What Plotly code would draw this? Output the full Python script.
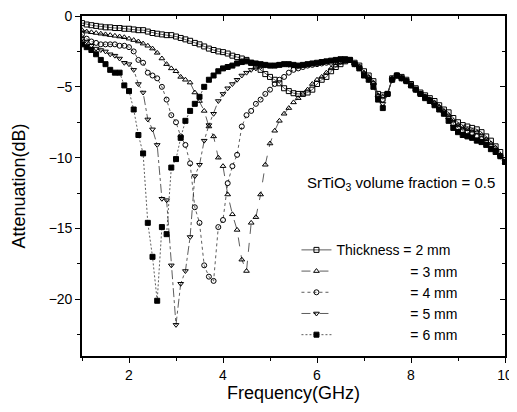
import plotly.graph_objects as go

# Frequency grid (GHz)
FREQ = [1.0, 1.1, 1.2, 1.3, 1.4, 1.5, 1.6, 1.7, 1.8, 1.9,
        2.0, 2.1, 2.2, 2.3, 2.4, 2.5, 2.6, 2.7, 2.8, 2.9,
        3.0, 3.1, 3.2, 3.3, 3.4, 3.5, 3.6, 3.7, 3.8, 3.9,
        4.0, 4.1, 4.2, 4.3, 4.4, 4.5, 4.6, 4.7, 4.8, 4.9,
        5.0, 5.1, 5.2, 5.3, 5.4, 5.5, 5.6, 5.7, 5.8, 5.9,
        6.0, 6.1, 6.2, 6.3, 6.4, 6.5, 6.6, 6.7, 6.8, 6.9,
        7.0, 7.1, 7.2, 7.3, 7.4, 7.5, 7.6, 7.7, 7.8, 7.9,
        8.0, 8.1, 8.2, 8.3, 8.4, 8.5, 8.6, 8.7, 8.8, 8.9,
        9.0, 9.1, 9.2, 9.3, 9.4, 9.5, 9.6, 9.7, 9.8, 9.9,
        10.0]

# Attenuation (dB) for each thickness
T2MM = [-0.5, -0.6, -0.65, -0.7, -0.75, -0.8, -0.8, -0.85, -0.85, -0.9,
        -0.9, -0.95, -1.0, -1.0, -1.1, -1.2, -1.25, -1.3, -1.35, -1.35,
        -1.45, -1.55, -1.65, -1.75, -1.9, -2.0, -2.15, -2.3, -2.4, -2.5,
        -2.55, -2.65, -2.8, -2.9, -3.0, -3.1, -3.3, -3.55, -3.8, -4.1,
        -4.3, -4.5, -4.75, -5.1, -5.3, -5.45, -5.5, -5.5, -5.4, -5.2,
        -4.8, -4.5, -4.3, -3.9, -3.6, -3.4, -3.2, -3.1, -3.3, -3.5,
        -3.9, -4.2, -4.6, -5.5, -5.6, -5.5, -4.4, -4.2, -4.3, -4.5,
        -4.8, -5.1, -5.4, -5.6, -5.8, -6.0, -6.3, -6.6, -6.8, -7.2,
        -7.5, -7.7, -7.8, -7.9, -8.0, -8.2, -8.5, -8.8, -9.2, -9.6,
        -10.3]

T3MM = [-1.0, -1.1, -1.15, -1.2, -1.25, -1.3, -1.35, -1.4, -1.45, -1.5,
        -1.6, -1.7, -1.8, -1.95, -2.1, -2.3, -2.6, -3.0, -3.4, -3.7,
        -3.9, -4.3, -4.5, -4.7, -5.4, -6.0, -6.7, -7.8, -8.5, -10.0,
        -10.6, -12.6, -14.0, -15.1, -17.2, -18.0, -14.6, -14.2, -12.6, -10.5,
        -9.0, -8.1, -7.4, -6.9, -6.5, -6.1, -5.8, -5.5, -5.2, -4.8,
        -4.5, -4.3, -4.0, -3.7, -3.5, -3.3, -3.2, -3.1, -3.35, -3.6,
        -4.0, -4.3, -4.7, -5.6, -5.7, -5.5, -4.4, -4.2, -4.35, -4.6,
        -4.9, -5.2, -5.5, -5.7, -5.9, -6.1, -6.4, -6.7, -7.0, -7.4,
        -7.7, -7.9, -8.0, -8.1, -8.2, -8.4, -8.7, -9.0, -9.3, -9.8,
        -10.3]

T4MM = [-1.3, -1.6, -1.8, -1.9, -2.0, -2.0, -2.0, -2.0, -2.1, -2.1,
        -2.2, -2.5, -3.1, -3.3, -4.0, -4.2, -4.4, -5.0, -5.9, -7.0,
        -7.5, -8.5, -9.1, -10.4, -13.5, -14.6, -17.6, -18.4, -18.7, -14.9,
        -14.4, -11.8, -10.6, -9.8, -7.8, -7.0, -6.7, -6.2, -5.9, -5.5,
        -5.2, -4.8, -4.5, -4.3, -4.0, -3.8, -3.7, -3.6, -3.5, -3.45,
        -3.4, -3.35, -3.3, -3.3, -3.25, -3.2, -3.15, -3.1, -3.4, -3.6,
        -4.1, -4.4, -4.8, -5.7, -5.9, -5.5, -4.5, -4.2, -4.4, -4.6,
        -4.9, -5.2, -5.5, -5.7, -5.9, -6.2, -6.5, -6.8, -7.2, -7.6,
        -7.9, -8.1, -8.2, -8.3, -8.5, -8.7, -8.9, -9.2, -9.5, -9.9,
        -10.3]

T5MM = [-1.6, -1.8, -2.1, -2.3, -2.4, -2.5, -2.7, -2.8, -3.0, -3.3,
        -3.4, -3.8, -4.8, -5.4, -7.3, -8.0, -9.1, -12.9, -13.0, -17.6,
        -21.8, -18.9, -18.0, -15.6, -11.3, -10.5, -8.8, -7.7, -6.9, -6.0,
        -5.5, -5.1, -4.8, -4.5, -4.2, -4.0, -3.8, -3.7, -3.6, -3.5,
        -3.5, -3.45, -3.4, -3.4, -3.45, -3.5, -3.5, -3.45, -3.4, -3.35,
        -3.3, -3.25, -3.2, -3.15, -3.1, -3.1, -3.05, -3.1, -3.4, -3.7,
        -4.1, -4.5, -4.9, -5.8, -6.2, -5.5, -4.5, -4.2, -4.4, -4.6,
        -4.9, -5.2, -5.5, -5.8, -6.0, -6.3, -6.6, -6.9, -7.3, -7.8,
        -8.1, -8.3, -8.4, -8.5, -8.7, -8.8, -9.0, -9.3, -9.6, -9.9,
        -10.3]

T6MM = [-2.0, -2.2, -2.4, -2.7, -3.1, -3.4, -3.8, -4.0, -4.0, -4.9,
        -5.3, -6.6, -8.4, -9.7, -14.6, -17.0, -20.1, -14.9, -15.4, -10.7,
        -10.1, -8.6, -7.4, -6.7, -6.2, -5.7, -5.0, -4.5, -4.2, -3.9,
        -3.7, -3.6, -3.5, -3.35, -3.25, -3.2, -3.3, -3.35, -3.4, -3.45,
        -3.5, -3.5, -3.45, -3.4, -3.4, -3.45, -3.5, -3.45, -3.4, -3.35,
        -3.3, -3.25, -3.2, -3.15, -3.1, -3.05, -3.05, -3.1, -3.4, -3.7,
        -4.2, -4.5, -5.0, -5.9, -6.5, -5.5, -4.5, -4.2, -4.4, -4.6,
        -4.9, -5.2, -5.5, -5.8, -6.0, -6.3, -6.6, -6.9, -7.4, -7.9,
        -8.2, -8.4, -8.5, -8.6, -8.8, -8.9, -9.1, -9.4, -9.6, -9.9,
        -10.3]

NBSP = "\u00a0"
LABELS = ["Thickness = 2 mm",
          NBSP * 19 + "= 3 mm",
          NBSP * 19 + "= 4 mm",
          NBSP * 19 + "= 5 mm",
          NBSP * 19 + "= 6 mm"]

SERIES = [T2MM, T3MM, T4MM, T5MM, T6MM]
SYMBOLS = ["square-open", "triangle-up-open", "circle-open", "triangle-down-open", "square"]
DASHES = ["solid", "dash", "dot", "dashdot", "2px,2px"]

FONT = "Liberation Sans, Arial, Helvetica, sans-serif"

fig = go.Figure()
for name, ys, sym, dash in zip(LABELS, SERIES, SYMBOLS, DASHES):
    fig.add_trace(go.Scatter(
        x=FREQ, y=ys, name=name, mode="lines+markers",
        line=dict(color="#333333", width=0.8, dash=dash),
        marker=dict(symbol=sym, size=5, color="black",
                    line=dict(color="black", width=1)),
    ))

# invisible trace so the mirrored (inside-tick) axes render
fig.add_trace(go.Scatter(x=[1], y=[0], xaxis="x2", yaxis="y2", mode="markers",
                         marker=dict(opacity=0), showlegend=False, hoverinfo="skip"))

axis_common = dict(showgrid=False, zeroline=False, color="black", automargin=False)

# page body has an 8px margin, so the figure is 8px smaller in each direction
fig.update_layout(
    width=509, height=404,
    margin=dict(l=74, r=12, t=8, b=56),
    paper_bgcolor="white", plot_bgcolor="white",
    font=dict(family=FONT, color="black", size=14),
    showlegend=True,
    legend=dict(x=0.507, y=0.358, xanchor="left", yanchor="top",
                bgcolor="rgba(0,0,0,0)", font=dict(size=14, family=FONT),
                itemwidth=30),
    xaxis=dict(range=[1, 10], tick0=0, dtick=2, ticks="outside", ticklen=5,
               tickwidth=1.2, showline=True, linewidth=1.6, linecolor="black",
               mirror=True, minor=dict(ticks="outside", dtick=1, ticklen=3, tickwidth=1),
               tickfont=dict(size=14), ticklabeloverflow="allow",
               title=dict(text="Frequency(GHz)", font=dict(size=18), standoff=5),
               **axis_common),
    yaxis=dict(range=[-24, 0], tick0=0, dtick=5, ticks="outside", ticklen=5,
               tickwidth=1.2, showline=True, linewidth=1.6, linecolor="black",
               mirror=True, minor=dict(ticks="outside", dtick=2.5, ticklen=3, tickwidth=1),
               tickfont=dict(size=14), ticklabeloverflow="allow",
               title=dict(text="Attenuation(dB)", font=dict(size=18), standoff=18),
               **axis_common),
    xaxis2=dict(range=[1, 10], overlaying="x", side="top", anchor="y",
                tick0=0, dtick=2, ticks="inside", ticklen=5, tickwidth=1.2,
                showticklabels=False, showline=False,
                minor=dict(ticks="inside", dtick=1, ticklen=3, tickwidth=1),
                **axis_common),
    yaxis2=dict(range=[-24, 0], overlaying="y", side="right", anchor="x",
                tick0=0, dtick=5, ticks="inside", ticklen=5, tickwidth=1.2,
                showticklabels=False, showline=False,
                minor=dict(ticks="inside", dtick=2.5, ticklen=3, tickwidth=1),
                **axis_common),
    annotations=[dict(text="SrTiO<sub>3</sub> volume fraction = 0.5",
                      x=0.982, y=0.506, xref="paper", yref="paper",
                      xanchor="right", yanchor="middle", showarrow=False,
                      font=dict(size=15, family=FONT))],
)

fig.write_html("out.html")
